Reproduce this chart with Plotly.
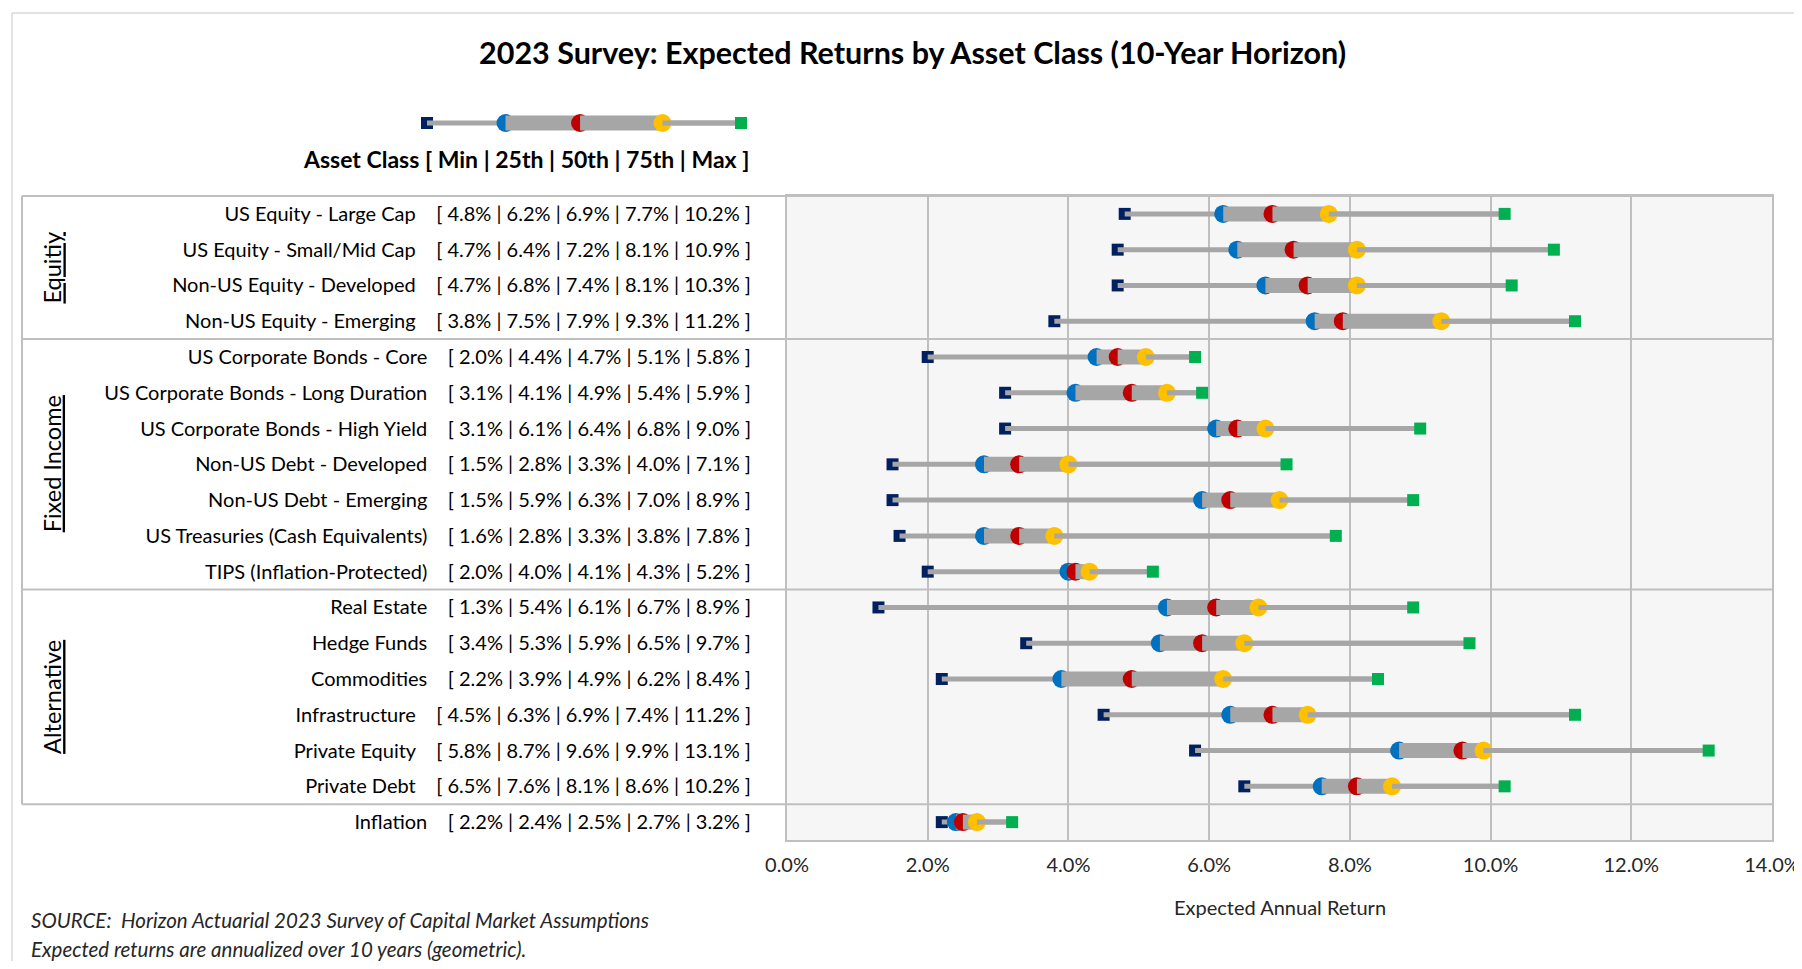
import plotly.graph_objects as go

# asset classes, top to bottom
asset_names = [
    "US Equity - Large Cap", "US Equity - Small/Mid Cap", "Non-US Equity - Developed",
    "Non-US Equity - Emerging", "US Corporate Bonds - Core", "US Corporate Bonds - Long Duration",
    "US Corporate Bonds - High Yield", "Non-US Debt - Developed", "Non-US Debt - Emerging",
    "US Treasuries (Cash Equivalents)", "TIPS (Inflation-Protected)", "Real Estate",
    "Hedge Funds", "Commodities", "Infrastructure", "Private Equity", "Private Debt", "Inflation",
]
ret_min = [4.8, 4.7, 4.7, 3.8, 2.0, 3.1, 3.1, 1.5, 1.5, 1.6, 2.0, 1.3, 3.4, 2.2, 4.5, 5.8, 6.5, 2.2]
ret_p25 = [6.2, 6.4, 6.8, 7.5, 4.4, 4.1, 6.1, 2.8, 5.9, 2.8, 4.0, 5.4, 5.3, 3.9, 6.3, 8.7, 7.6, 2.4]
ret_p50 = [6.9, 7.2, 7.4, 7.9, 4.7, 4.9, 6.4, 3.3, 6.3, 3.3, 4.1, 6.1, 5.9, 4.9, 6.9, 9.6, 8.1, 2.5]
ret_p75 = [7.7, 8.1, 8.1, 9.3, 5.1, 5.4, 6.8, 4.0, 7.0, 3.8, 4.3, 6.7, 6.5, 6.2, 7.4, 9.9, 8.6, 2.7]
ret_max = [10.2, 10.9, 10.3, 11.2, 5.8, 5.9, 9.0, 7.1, 8.9, 7.8, 5.2, 8.9, 9.7, 8.4, 11.2, 13.1, 10.2, 3.2]

group_names = ["Equitiy", "Fixed Income", "Alternative"]
group_sizes = [4, 7, 6]

# key at the top: Min | 25th | 50th | 75th | Max
legend_sample = [0.0, 1.0, 1.95, 3.0, 4.0]

x_ticks = [0, 2, 4, 6, 8, 10, 12, 14]

NAVY, BLUE, RED, YELLOW, GREEN, GRAY = "#002060", "#0070C0", "#C00000", "#FFC000", "#00B050", "#A6A6A6"
FONT = "Lato"
# page body has an 8px margin, so the figure sits at (8, 8)
OFF = 8
W, H = 1802 - OFF, 969 - 2 * OFF


def px_x(p):
    return (p - OFF) / W


def px_y(p):
    return 1 - (p - OFF) / H


def segments(a, b, rows):
    xs, ys = [], []
    for x0, x1, r in zip(a, b, rows):
        xs += [x0, x1, None]
        ys += [r, r, None]
    return xs, ys


def add_boxes(fig, mn, p25, p50, p75, mx, rows, xa="x", ya="y"):
    def line(a, b, width):
        xs, ys = segments(a, b, rows)
        fig.add_trace(go.Scatter(x=xs, y=ys, mode="lines", line=dict(color=GRAY, width=width),
                                 xaxis=xa, yaxis=ya, hoverinfo="skip", showlegend=False))

    def marks(v, color, symbol, size):
        fig.add_trace(go.Scatter(x=v, y=rows, mode="markers", cliponaxis=False,
                                 marker=dict(color=color, symbol=symbol, size=size, line=dict(width=0)),
                                 xaxis=xa, yaxis=ya, hoverinfo="skip", showlegend=False))

    marks(mn, NAVY, "square", 12)
    line(mn, mx, 5)
    marks(p25, BLUE, "circle", 18)
    line(p25, p50, 15)
    marks(p50, RED, "circle", 18)
    line(p50, p75, 15)
    marks(p75, YELLOW, "circle", 18)
    line(p75, mx, 5)
    marks(mx, GREEN, "square", 12)


rows = list(range(len(asset_names)))
nb = "\u00a0"
tick_text = [
    f"{n}{nb*4}[ " + " | ".join(f"{v:.1f}%" for v in vals) + " ]"
    for n, *vals in zip(asset_names, ret_min, ret_p25, ret_p50, ret_p75, ret_max)
]

fig = go.Figure()
add_boxes(fig, ret_min, ret_p25, ret_p50, ret_p75, ret_max, rows)
add_boxes(fig, *[[v] for v in legend_sample], [0], xa="x2", ya="y2")

plot_l, plot_r, plot_t, plot_b = 787, 1772, 196, 840
grid = "#BFBFBF"

fig.update_layout(
    width=W, height=H,
    margin=dict(l=0, r=0, t=0, b=0, autoexpand=False),
    paper_bgcolor="white", plot_bgcolor="rgba(0,0,0,0)",
    font=dict(family=FONT, color="#000000"),
    xaxis=dict(domain=[px_x(plot_l), px_x(plot_r)], range=[0, 14], tickvals=x_ticks,
               ticktext=[f"{v:.1f}%" for v in x_ticks], showgrid=True, gridcolor=grid, gridwidth=1.5,
               zeroline=False, showline=True, linecolor=grid, linewidth=2, mirror=True,
               ticks="", ticklabelstandoff=6, automargin=False,
               tickfont=dict(size=20, color="#262626")),
    yaxis=dict(domain=[px_y(plot_b), px_y(plot_t)], range=[len(rows) - 0.5, -0.5],
               tickvals=rows, ticktext=tick_text, showgrid=False, zeroline=False,
               showline=True, linecolor=grid, linewidth=2, mirror=True, automargin=False,
               ticks="", ticklabelstandoff=30, tickfont=dict(size=20, color="#000000")),
    xaxis2=dict(domain=[px_x(427), px_x(741)], range=[0, 4], visible=False, anchor="y2",
                automargin=False),
    yaxis2=dict(domain=[px_y(140), px_y(106)], range=[-0.5, 0.5], visible=False, anchor="x2",
                automargin=False),
)

shapes = [
    # plot background
    dict(type="rect", xref="x domain", yref="y domain", x0=0, x1=1, y0=0, y1=1,
         fillcolor="#F6F6F6", line=dict(width=0), layer="below"),
    # outer frame
    dict(type="line", xref="paper", yref="paper", x0=px_x(12), x1=1, y0=px_y(13), y1=px_y(13),
         line=dict(color="#D9D9D9", width=1.5)),
    dict(type="line", xref="paper", yref="paper", x0=px_x(12), x1=px_x(12), y0=px_y(13), y1=0,
         line=dict(color="#D9D9D9", width=1.5)),
    # label box top and left side
    dict(type="line", xref="paper", yref="paper", x0=px_x(22), x1=px_x(plot_r), y0=px_y(plot_t),
         y1=px_y(plot_t), line=dict(color=grid, width=2)),
    dict(type="line", xref="paper", yref="y", x0=px_x(22), x1=px_x(22), y0=-0.5,
         y1=sum(group_sizes) - 0.5, line=dict(color=grid, width=2)),
]

annotations = []
start = 0
for name, size in zip(group_names, group_sizes):
    end = start + size
    shapes.append(dict(type="line", xref="paper", yref="y", x0=px_x(22), x1=px_x(plot_r),
                       y0=end - 0.5, y1=end - 0.5, line=dict(color=grid, width=2)))
    annotations.append(dict(text=f"<u>{name}</u>", xref="paper", yref="y", x=px_x(52),
                            y=(start + end - 1) / 2, textangle=-90, showarrow=False,
                            xanchor="center", yanchor="middle", font=dict(size=23.5)))
    start = end


def note(text, x, y, size, xanchor="center", color="#000000"):
    return dict(text=text, xref="paper", yref="paper", x=px_x(x), y=px_y(y), showarrow=False,
                xanchor=xanchor, yanchor="middle", font=dict(size=size, color=color))


annotations += [
    note("<b>2023 Survey: Expected Returns by Asset Class (10-Year Horizon)</b>", 913, 52, 30.5),
    note("<b>Asset Class [ Min | 25th | 50th | 75th | Max ]</b>", 751, 159, 23, xanchor="right"),
    note("Expected Annual Return", 1280, 907, 20, color="#262626"),
    note(f"<i>SOURCE:{nb*2}Horizon Actuarial 2023 Survey of Capital Market Assumptions</i>",
         29, 920, 20.5, xanchor="left", color="#262626"),
    note("<i>Expected returns are annualized over 10 years (geometric).</i>",
         29, 949, 20.5, xanchor="left", color="#262626"),
]

fig.update_layout(shapes=shapes, annotations=annotations)
fig.write_html("out.html")
